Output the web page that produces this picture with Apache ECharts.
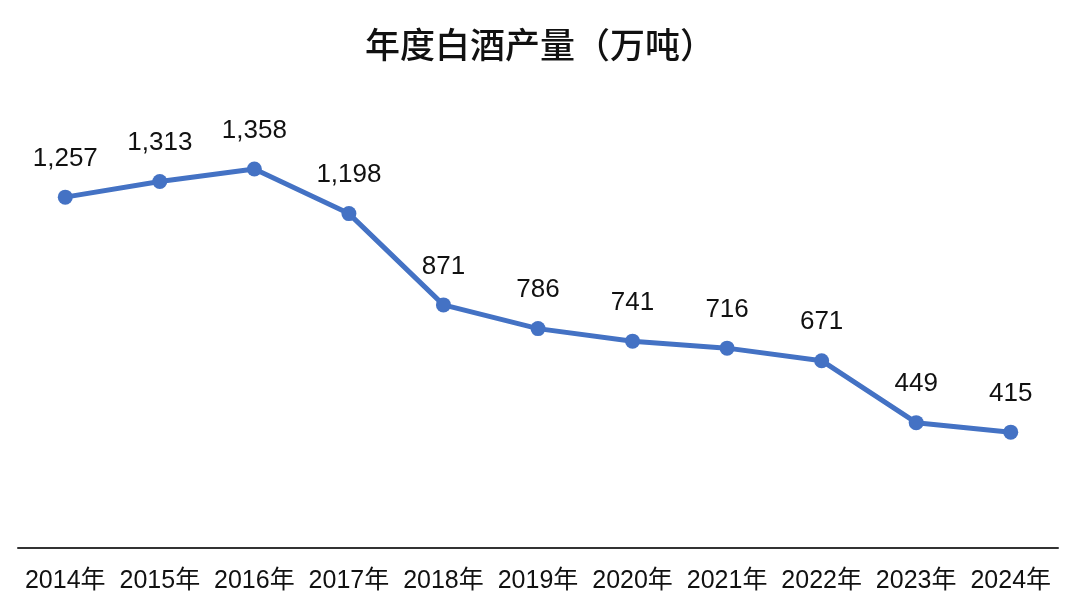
<!DOCTYPE html>
<html><head><meta charset="utf-8">
<script src="https://cdn.jsdelivr.net/npm/echarts@6/dist/echarts.min.js"></script>
<style>html,body{margin:0;padding:0;background:#fff}#c{width:1080px;height:612px}</style>
</head><body><div id="c"></div>
<script>
const categories = ['2014年','2015年','2016年','2017年','2018年','2019年','2020年','2021年','2022年','2023年','2024年'];
const values = [1257, 1313, 1358, 1198, 871, 786, 741, 716, 671, 449, 415];
const titleText = '年度白酒产量（万吨）';

const chart = echarts.init(document.getElementById('c'));
chart.setOption({
  backgroundColor: '#fff',
  animation: false,
  title: {
    text: titleText, left: 'center', top: 22,
    textStyle: {fontFamily: '"Noto Sans CJK SC"', fontSize: 35, fontWeight: 500, color: '#111'}
  },
  grid: {left: 18, right: 22, top: 101.4, bottom: 64, containLabel: false},
  xAxis: {
    type: 'category', data: categories, boundaryGap: true,
    axisLine: {lineStyle: {color: '#333', width: 2}},
    axisTick: {show: false},
    axisLabel: {color: '#111', fontSize: 25, margin: 21, fontFamily: '"Liberation Sans", Arial, "Noto Sans CJK SC"', interval: 0}
  },
  yAxis: {type: 'value', min: 0, max: 1600, show: false, splitLine: {show: false}},
  series: [{
    type: 'line', data: values,
    symbol: 'circle', symbolSize: 15,
    lineStyle: {color: '#4472C4', width: 5},
    itemStyle: {color: '#4472C4'},
    label: {
      show: true, position: 'top', distance: 18,
      fontSize: 26, color: '#111', fontFamily: '"Liberation Sans", Arial',
      formatter: p => p.value.toLocaleString('en-US')
    }
  }]
});
</script></body></html>
